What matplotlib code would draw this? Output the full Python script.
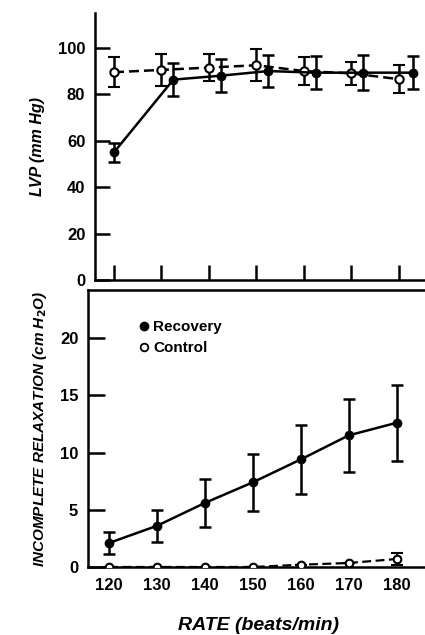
import numpy as np
import matplotlib.pyplot as plt
from matplotlib.lines import Line2D

plt.rcParams['font.family'] = ['Liberation Sans', 'DejaVu Sans']
plt.rcParams['font.weight'] = 'bold'

# LVP panel (top)
rate_ctl = [120, 130, 140, 150, 160, 170, 180]
lvp_ctl = [89.5, 90.5, 91.5, 92.5, 90, 89, 86.5]
lvp_ctl_err = [6.5, 7, 6, 7, 6, 5, 6]
rate_rec_top = [120, 132.5, 142.5, 152.5, 162.5, 172.5, 183]
lvp_rec = [55, 86.3, 88, 90, 89.3, 89.3, 89.3]
lvp_rec_err = [4, 7, 7, 7, 7, 7.5, 7]

# incomplete relaxation panel (bottom)
rate = [120, 130, 140, 150, 160, 170, 180]
ir_rec = [2.1, 3.6, 5.6, 7.4, 9.4, 11.5, 12.6]
ir_rec_err = [1.0, 1.4, 2.1, 2.5, 3.0, 3.2, 3.3]
ir_ctl = [0, 0, 0, 0, 0.2, 0.35, 0.7]
ir_ctl_err = [0, 0, 0, 0, 0, 0, 0.55]

fig = plt.figure(figsize=(4.25, 6.35), dpi=100)

# --- top panel
ax1 = fig.add_axes([95/425, 1-280/635, 1-95/425, (280-13)/635])
ax1.errorbar(rate_ctl, lvp_ctl, yerr=lvp_ctl_err, color='black', lw=1.8,
             ls=(0, (4, 2)), marker='o', mfc='white', mec='black', ms=6,
             mew=1.5, capsize=4, elinewidth=1.8, capthick=1.8, zorder=3)
ax1.errorbar(rate_rec_top, lvp_rec, yerr=lvp_rec_err, color='black', lw=1.8,
             marker='o', mfc='black', mec='black', ms=6, capsize=4,
             elinewidth=1.8, capthick=1.8, zorder=4)
ax1.set_xlim(116, 185.5)
ax1.set_ylim(0, 115)
ax1.set_yticks([0, 20, 40, 60, 80, 100])
ax1.set_xticks(rate_ctl)
ax1.set_xticklabels([])
ax1.spines['top'].set_visible(False)
ax1.spines['right'].set_visible(False)
for s in ax1.spines.values():
    s.set_linewidth(1.8)
ax1.tick_params(axis='y', direction='in', length=11, width=1.8, labelsize=12, pad=7)
ax1.tick_params(axis='x', direction='in', length=11, width=1.8)
ax1.set_ylabel('LVP (mm Hg)', fontsize=11.5, style='italic', fontweight='bold', labelpad=9)

# --- bottom panel
ax2 = fig.add_axes([88/425, 1-567/635, 1-88/425 + 0.01, (567-290)/635])
ax2.errorbar(rate, ir_ctl, yerr=ir_ctl_err, color='black', lw=1.6,
             ls=(0, (4, 2)), marker='o', mfc='white', mec='black', ms=5.5,
             mew=1.5, capsize=4, elinewidth=1.6, capthick=1.6, zorder=3)
ax2.errorbar(rate, ir_rec, yerr=ir_rec_err, color='black', lw=1.8,
             marker='o', mfc='black', mec='black', ms=6, capsize=4,
             elinewidth=1.8, capthick=1.8, zorder=4)
ax2.set_xlim(115.6, 186.8)
ax2.set_ylim(0, 24.2)
ax2.set_yticks([0, 5, 10, 15, 20])
ax2.set_xticks(rate)
ax2.spines['right'].set_visible(False)
for s in ax2.spines.values():
    s.set_linewidth(1.8)
ax2.tick_params(axis='y', direction='in', length=12, width=1.8, labelsize=12, pad=7)
ax2.tick_params(axis='x', length=0, labelsize=12, pad=8)
ax2.set_ylabel('INCOMPLETE RELAXATION (cm H$_2$O)', fontsize=11, style='italic',
               fontweight='bold', labelpad=8)
ax2.set_xlabel('RATE (beats/min)', fontsize=14, style='italic', fontweight='bold',
               labelpad=17)

handles = [Line2D([], [], ls='none', marker='o', mfc='black', mec='black', ms=6),
           Line2D([], [], ls='none', marker='o', mfc='white', mec='black', ms=5.5, mew=1.3)]
ax2.legend(handles, ['Recovery', 'Control'], loc='upper left',
           bbox_to_anchor=(0.11, 0.94), frameon=False, handlelength=0.6,
           handletextpad=0.3, labelspacing=0.45, prop={'weight': 'bold', 'size': 11})

fig.savefig('out.png', dpi=100)
